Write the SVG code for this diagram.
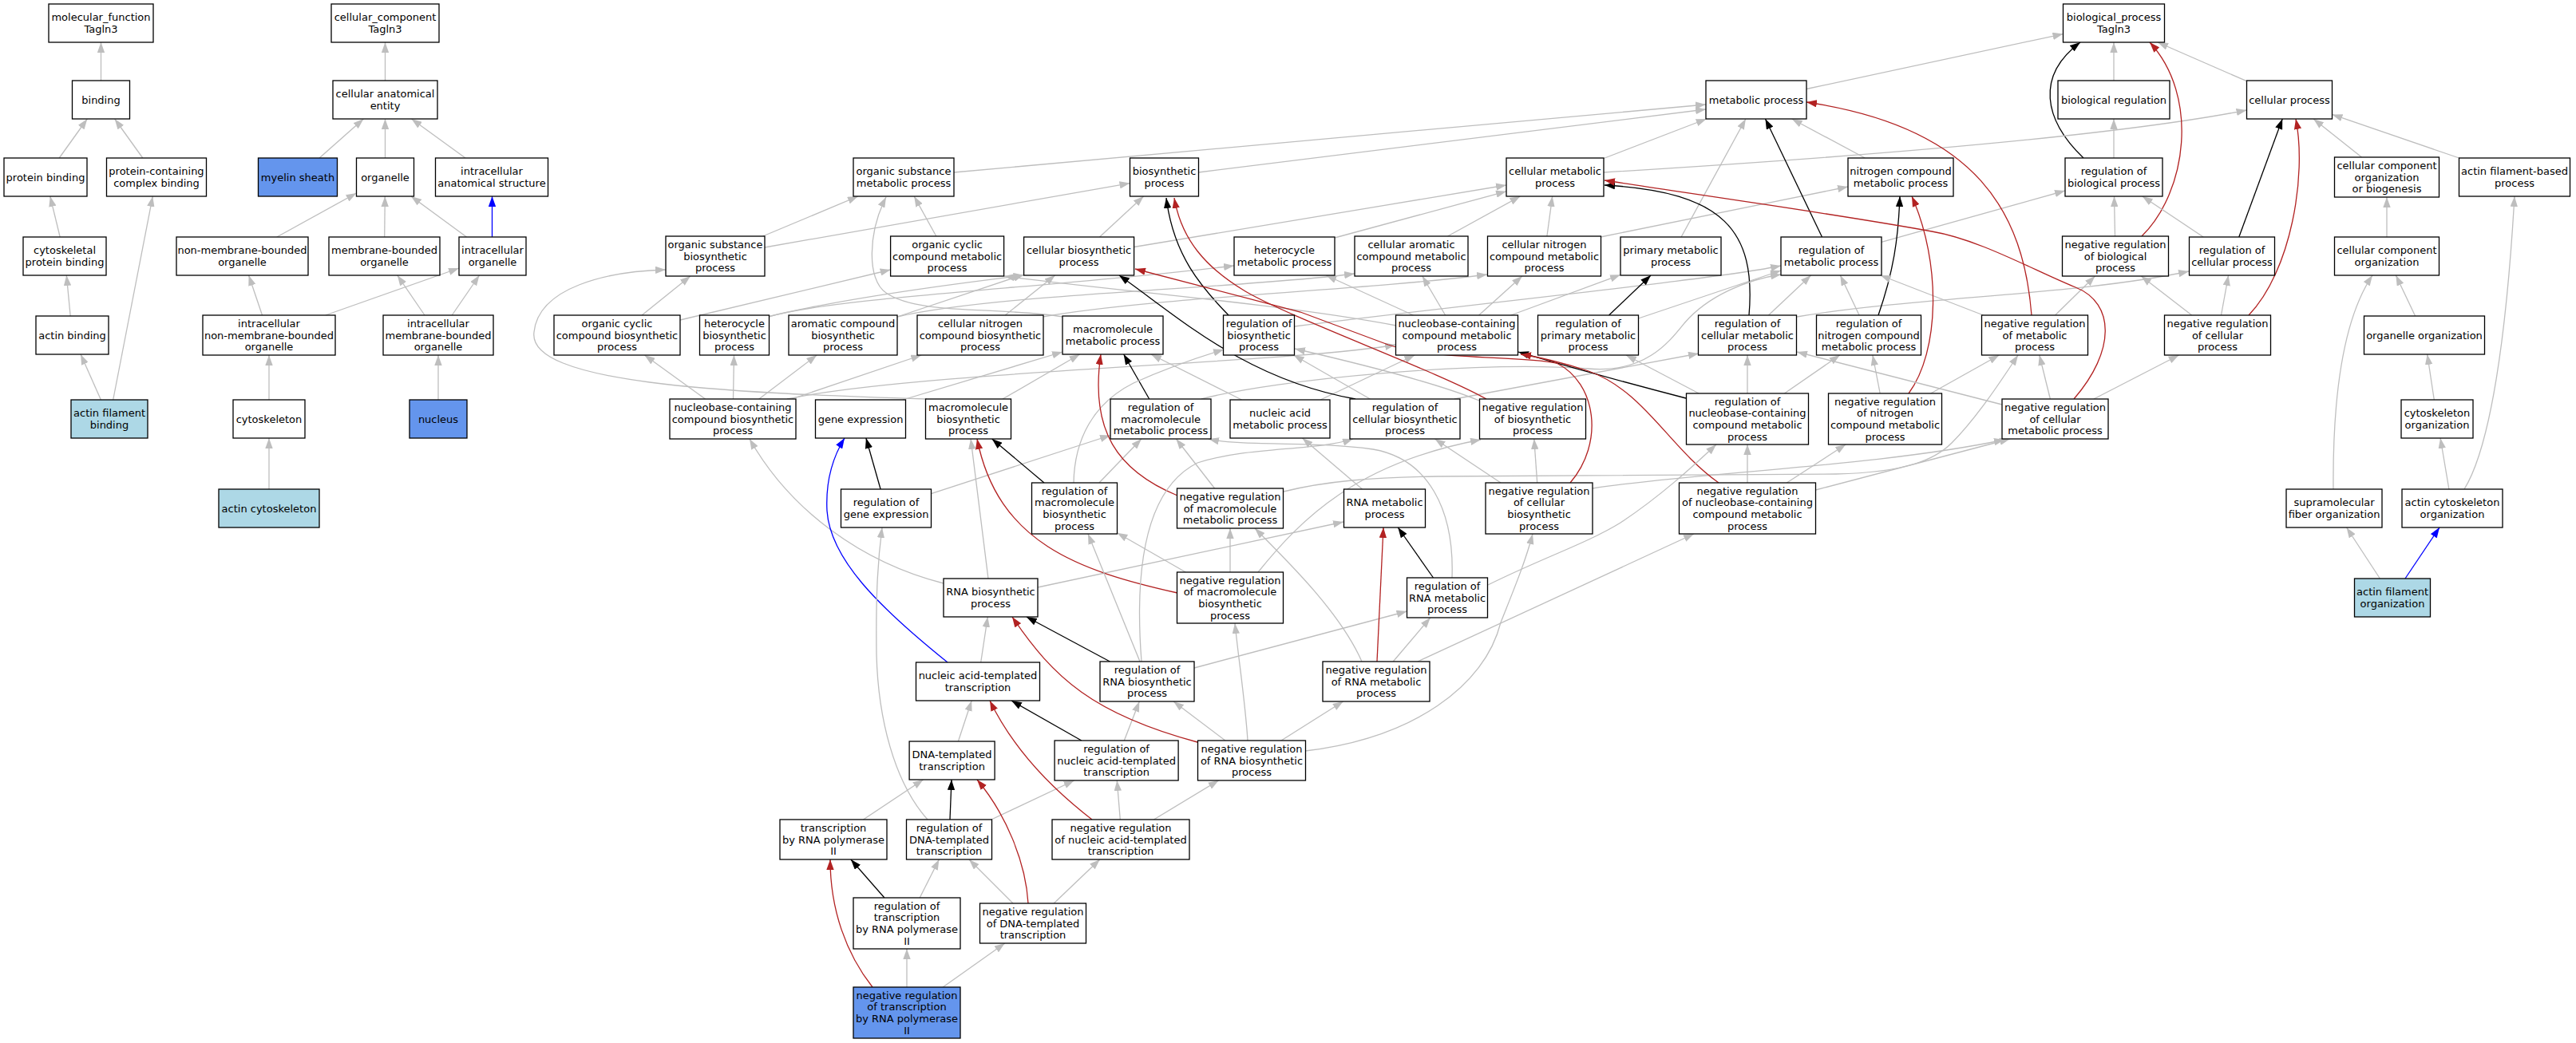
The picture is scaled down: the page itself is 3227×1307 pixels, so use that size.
<svg xmlns="http://www.w3.org/2000/svg" width="3227" height="1307" viewBox="0 0 3227 1307">
<defs>
<style>
.n rect{fill:#fff;stroke:#000;stroke-width:1.3}
.n.lb rect{fill:#add8e6}
.n.cb rect{fill:#6495ed}
text{font-family:"DejaVu Sans",Verdana,sans-serif;font-size:13px;text-anchor:middle;fill:#000}
#edges path{fill:none;stroke-width:1.3}
#edges .g{stroke:#bebebe;marker-end:url(#mg)}
#edges .k{stroke:#000;marker-end:url(#mk)}
#edges .r{stroke:#b22222;marker-end:url(#mr)}
#edges .b{stroke:#0000ff;marker-end:url(#mb)}
</style>
<marker id="mg" viewBox="0 0 13 9.4" refX="13" refY="4.7" markerWidth="13" markerHeight="9.4" markerUnits="userSpaceOnUse" orient="auto"><path d="M0,0L13,4.7L0,9.4z" fill="#bebebe"/></marker>
<marker id="mk" viewBox="0 0 13 9.4" refX="13" refY="4.7" markerWidth="13" markerHeight="9.4" markerUnits="userSpaceOnUse" orient="auto"><path d="M0,0L13,4.7L0,9.4z" fill="#000"/></marker>
<marker id="mr" viewBox="0 0 13 9.4" refX="13" refY="4.7" markerWidth="13" markerHeight="9.4" markerUnits="userSpaceOnUse" orient="auto"><path d="M0,0L13,4.7L0,9.4z" fill="#b22222"/></marker>
<marker id="mb" viewBox="0 0 13 9.4" refX="13" refY="4.7" markerWidth="13" markerHeight="9.4" markerUnits="userSpaceOnUse" orient="auto"><path d="M0,0L13,4.7L0,9.4z" fill="#0000ff"/></marker>
</defs>
<rect width="3227" height="1307" fill="#fff"/>
<g id="edges">
<path class="g" d="M126.5,101 L126.5,53"/>
<path class="g" d="M74.2,198 L109.3,149"/>
<path class="g" d="M178.8,198 L143.7,149"/>
<path class="g" d="M75.2,297 L62.8,246"/>
<path class="g" d="M88.2,396 L83.3,345"/>
<path class="g" d="M126.4,501 L101.1,444"/>
<path class="g" d="M141.7,501 L191.3,246"/>
<path class="g" d="M482.5,101 L482.5,53"/>
<path class="g" d="M400.1,198 L455.4,149"/>
<path class="g" d="M482.5,198 L482.5,149"/>
<path class="g" d="M583,198 L515.5,149"/>
<path class="g" d="M346.8,297 L446.5,242"/>
<path class="g" d="M481.7,297 L482.3,246"/>
<path class="g" d="M584.5,297 L515,246"/>
<path class="b" d="M616.5,297 L616.5,246"/>
<path class="g" d="M328.5,395 L311.6,345"/>
<path class="g" d="M407.7,395 L575,336"/>
<path class="g" d="M532,395 L497.8,345"/>
<path class="g" d="M566.2,395 L600.5,345"/>
<path class="g" d="M337,501 L337,445"/>
<path class="g" d="M549,501 L549,445"/>
<path class="g" d="M337,613 L337,549"/>
<path class="g" d="M2263,111.5 L2584.5,42.6"/>
<path class="g" d="M2648,101 L2648,53"/>
<path class="g" d="M2814.5,101.7 L2703,53"/>
<path class="k" d="M2610,198 C2560,150 2550,95 2606,53"/>
<path class="g" d="M2648,198 L2648,149"/>
<path class="g" d="M1195,216 L2137,131"/>
<path class="g" d="M1501.5,216 L2137,137"/>
<path class="g" d="M2009,198.5 L2137.7,149"/>
<path class="g" d="M2009,216 Q2600,180 2814.5,138"/>
<path class="g" d="M2336.3,198 L2244.7,149"/>
<path class="g" d="M2958.5,197 L2898.1,149"/>
<path class="g" d="M3080.6,198 L2921.5,143.4"/>
<path class="g" d="M955.6,296 L1074.9,246"/>
<path class="g" d="M958,310 L1415.5,229.6"/>
<path class="g" d="M1172.8,296 L1145.2,246"/>
<path class="g" d="M1377.5,297 L1432.6,246"/>
<path class="g" d="M1420.6,309.5 L1887,232"/>
<path class="g" d="M1672,298 L1887,239.8"/>
<path class="g" d="M1813.5,296 L1904.4,246"/>
<path class="g" d="M1937.9,296 L1944.7,246"/>
<path class="g" d="M2005,297 L2315,234"/>
<path class="g" d="M2106.1,297 L2186.9,149"/>
<path class="k" d="M2282.5,297 L2211.5,149"/>
<path class="g" d="M2357,303.4 L2587,239"/>
<path class="g" d="M2649.5,296 L2648.5,246"/>
<path class="r" d="M2683,296 C2740,240 2755,120 2693,53"/>
<path class="g" d="M2760.2,297 L2683.8,246"/>
<path class="k" d="M2804.8,297 L2859.2,149"/>
<path class="g" d="M2990,297 L2990,247"/>
<path class="g" d="M852,401 L1115.6,338"/>
<path class="g" d="M804.1,395 L864.9,346"/>
<path class="g" d="M962,397 C1050,372 1300,362 1546,333"/>
<path class="g" d="M962,397 C1050,375 1200,355 1282.6,345"/>
<path class="g" d="M1124,397 L1282.6,344"/>
<path class="g" d="M1124,397 C1250,368 1550,362 1697,343"/>
<path class="g" d="M1259.2,395 L1321.7,345"/>
<path class="g" d="M1306,397 C1450,372 1700,365 1863,344"/>
<path class="g" d="M1332,397 C1250,384 1150,395 1110,367 C1085,350 1088,290 1110,247"/>
<path class="k" d="M1539,395 C1505,360 1470,320 1461,248"/>
<path class="g" d="M1622,409 C1850,380 2150,350 2231,333"/>
<path class="g" d="M1770.5,395 L1661.3,345"/>
<path class="g" d="M1810.6,395 L1781.8,346"/>
<path class="g" d="M1852.6,395 L1906.9,346"/>
<path class="g" d="M1892.7,395 L2030,344.3"/>
<path class="g" d="M1749,408 C1600,380 1400,365 1258,346"/>
<path class="k" d="M2015.6,395 L2068,345"/>
<path class="g" d="M2052.5,399 L2231,339"/>
<path class="k" d="M2191,395 C2200,290 2160,240 2010,232"/>
<path class="g" d="M2215.5,395 L2268.6,345"/>
<path class="g" d="M2251,397 C2400,372 2600,370 2742,340"/>
<path class="k" d="M2353,395 C2372,340 2378,300 2380,246"/>
<path class="g" d="M2329.1,395 L2305.4,345"/>
<path class="r" d="M2545,395 C2535,270 2480,160 2263,128"/>
<path class="g" d="M2484.6,395 L2355.7,345"/>
<path class="g" d="M2574.5,395 L2624.5,346"/>
<path class="g" d="M2745.7,395 L2682.3,346"/>
<path class="g" d="M2782.5,395 L2791.6,345"/>
<path class="r" d="M2817,395 C2870,340 2890,220 2876,149"/>
<path class="g" d="M3025.6,396 L3001.4,345"/>
<path class="g" d="M883.5,500 L807.5,445"/>
<path class="g" d="M918.5,500 L919.5,445"/>
<path class="g" d="M950.8,500 L1023.2,445"/>
<path class="g" d="M991.8,500 L1154.2,445"/>
<path class="g" d="M986,500 C1150,465 1620,455 1748,432"/>
<path class="g" d="M1131,501 L1331,441"/>
<path class="g" d="M1256,500 L1352.6,444"/>
<path class="g" d="M1161,500 C900,492 660,480 669,416 C675,360 760,340 834,338"/>
<path class="k" d="M1439.7,500 L1407.7,444"/>
<path class="g" d="M1505,500 C1600,475 1850,452 1990,462 C2060,468 2090,430 2110,405 C2140,370 2190,350 2231,344"/>
<path class="g" d="M1555.5,501 L1442,444"/>
<path class="g" d="M1654.2,501 L1772.3,445"/>
<path class="g" d="M1716.4,500 L1620.6,445"/>
<path class="k" d="M1698,500 C1560,475 1480,400 1402,345"/>
<path class="g" d="M1822,500 L2128,443"/>
<path class="r" d="M1862,500 C1800,465 1620,400 1560,365 C1510,335 1480,300 1471,248"/>
<path class="g" d="M1853,502 C1800,480 1700,455 1622,437"/>
<path class="k" d="M2112,499 C2000,470 1950,455 1902,441"/>
<path class="g" d="M2189,493 L2189,445"/>
<path class="g" d="M2235.4,493 L2304.8,445"/>
<path class="g" d="M2128.2,493 L2037,445"/>
<path class="r" d="M2391,493 C2430,440 2432,330 2395,246"/>
<path class="g" d="M2355.2,493 L2345.9,445"/>
<path class="g" d="M2418.7,493 L2504.4,445"/>
<path class="r" d="M2598,500 C2650,440 2650,380 2600,360 C2550,340 2480,300 2420,290 C2300,268 2100,240 2010,226"/>
<path class="g" d="M2508,507 L2251,441"/>
<path class="g" d="M2568.4,500 L2554.8,445"/>
<path class="g" d="M2622.9,500 L2729.6,445"/>
<path class="g" d="M3049.3,501 L3040.7,444"/>
<path class="k" d="M1103.1,613 L1084.9,549"/>
<path class="g" d="M1166.5,618.6 L1391,545.5"/>
<path class="k" d="M1308,605 L1242.7,550"/>
<path class="g" d="M1376.9,605 L1429.9,550"/>
<path class="g" d="M1345,605 C1346,550 1370,505 1420,480 C1460,462 1500,448 1533,438"/>
<path class="r" d="M1475,621 C1400,590 1365,540 1379,444"/>
<path class="g" d="M1521.6,612 L1473.4,550"/>
<path class="g" d="M1608,616 C1660,603 1720,598 1800,597 L2300,594 C2390,592 2425,575 2445,555 C2475,525 2505,480 2528,445"/>
<path class="g" d="M1706.5,613 L1631.5,549"/>
<path class="g" d="M1925.7,605 L1921.8,550"/>
<path class="g" d="M1880,605 L1797.5,550"/>
<path class="r" d="M1967,605 C2010,555 2000,480 1950,455 C1900,445 1800,452 1739,432 L1629,391 L1422,337"/>
<path class="g" d="M1995,612 C2120,592 2350,585 2511,551"/>
<path class="r" d="M2153,605 C2090,560 2060,490 1990,465 C1950,452 1925,447 1905,444"/>
<path class="g" d="M2189,605 L2189,557"/>
<path class="g" d="M2238.3,605 L2312.2,557"/>
<path class="g" d="M2274.5,614 L2518,550"/>
<path class="g" d="M2923,613 C2922,500 2935,400 2972,345"/>
<path class="g" d="M3067.9,613 L3057.1,549"/>
<path class="g" d="M3087,613 C3120,560 3140,420 3150,246"/>
<path class="g" d="M1182,731 C1080,705 990,640 939,550"/>
<path class="g" d="M1238,725 L1216.1,550"/>
<path class="g" d="M1300,736 L1683,654"/>
<path class="r" d="M1475,743 C1350,715 1250,680 1224,550"/>
<path class="g" d="M1485.3,717 L1399.5,667.7"/>
<path class="g" d="M1541,717 L1541,662"/>
<path class="g" d="M1576,717 C1630,650 1700,580 1855,551"/>
<path class="k" d="M1795.5,724 L1751.3,661"/>
<path class="g" d="M1819,724 C1822,640 1790,575 1720,563 C1640,552 1560,560 1514,550"/>
<path class="g" d="M1864,733 C1930,700 1990,680 2030,655 C2080,622 2120,585 2150,557"/>
<path class="g" d="M2981.4,725 L2939.6,661"/>
<path class="b" d="M3013,725 L3056,661"/>
<path class="g" d="M1228.7,830 L1237.3,773"/>
<path class="b" d="M1187,830 C1100,760 1040,700 1036,640 C1034,600 1045,570 1058,549"/>
<path class="k" d="M1390.4,829 L1285.9,773"/>
<path class="g" d="M1428,829 L1363,669"/>
<path class="g" d="M1496,837 L1762.5,766"/>
<path class="g" d="M1430,829 C1420,700 1440,610 1500,580 C1560,560 1650,565 1695,550"/>
<path class="r" d="M1725,829 L1733,661"/>
<path class="g" d="M1745.2,829 L1791.8,774"/>
<path class="g" d="M1776,829 L2122,669"/>
<path class="g" d="M1706,829 C1680,770 1620,710 1572,662"/>
<path class="g" d="M1200.4,929 L1217.2,878"/>
<path class="k" d="M1354.8,928 L1267,878"/>
<path class="g" d="M1408.3,928 L1427.3,879"/>
<path class="r" d="M1500,930 C1370,895 1320,850 1268,773"/>
<path class="g" d="M1534.9,928 L1470.1,879"/>
<path class="g" d="M1563,928 C1560,880 1552,830 1547,781"/>
<path class="g" d="M1605,928 L1682.6,879"/>
<path class="g" d="M1635,941 C1770,925 1860,860 1880,780 C1900,730 1912,700 1920,669"/>
<path class="g" d="M1081.5,1027 L1156.6,977"/>
<path class="k" d="M1190,1027 L1192,977"/>
<path class="g" d="M1241.9,1027 L1345.7,978"/>
<path class="g" d="M1162,1027 C1120,980 1100,900 1098,820 C1097,740 1100,700 1105,661"/>
<path class="r" d="M1368,1027 C1320,990 1270,940 1240,878"/>
<path class="g" d="M1403.3,1027 L1399.3,978"/>
<path class="g" d="M1445.4,1027 L1526.6,978"/>
<path class="k" d="M1107.9,1125 L1065.9,1077"/>
<path class="g" d="M1152.2,1125 L1176.4,1077"/>
<path class="r" d="M1288,1132 C1285,1080 1260,1020 1224,977"/>
<path class="g" d="M1269,1132 L1214,1077"/>
<path class="g" d="M1320.2,1132 L1377.8,1077"/>
<path class="r" d="M1093,1237 C1060,1195 1040,1140 1040,1077"/>
<path class="g" d="M1136,1237 L1136,1189"/>
<path class="g" d="M1181.2,1237 L1258.8,1182"/>
</g>
<g id="mf" class="n"><rect x="61" y="5" width="131" height="48"/><text x="126.5" y="26.35"><tspan x="126.5">molecular_function</tspan><tspan x="126.5" dy="14.7">Tagln3</tspan></text></g>
<g id="binding" class="n"><rect x="90.5" y="101" width="72" height="48"/><text x="126.5" y="129.7">binding</text></g>
<g id="pb" class="n"><rect x="5" y="198" width="104" height="48"/><text x="57" y="226.7">protein binding</text></g>
<g id="pccb" class="n"><rect x="133.5" y="198" width="125" height="48"/><text x="196" y="219.35"><tspan x="196">protein-containing</tspan><tspan x="196" dy="14.7">complex binding</tspan></text></g>
<g id="cpb" class="n"><rect x="29" y="297" width="104" height="48"/><text x="81" y="318.35"><tspan x="81">cytoskeletal</tspan><tspan x="81" dy="14.7">protein binding</tspan></text></g>
<g id="ab" class="n"><rect x="45" y="396" width="91" height="48"/><text x="90.5" y="424.7">actin binding</text></g>
<g id="afb" class="n lb"><rect x="89" y="501" width="96" height="48"/><text x="137" y="522.35"><tspan x="137">actin filament</tspan><tspan x="137" dy="14.7">binding</tspan></text></g>
<g id="cc" class="n"><rect x="415" y="5" width="135" height="48"/><text x="482.5" y="26.35"><tspan x="482.5">cellular_component</tspan><tspan x="482.5" dy="14.7">Tagln3</tspan></text></g>
<g id="cae" class="n"><rect x="417" y="101" width="131" height="48"/><text x="482.5" y="122.35"><tspan x="482.5">cellular anatomical</tspan><tspan x="482.5" dy="14.7">entity</tspan></text></g>
<g id="ms" class="n cb"><rect x="323.5" y="198" width="99" height="48"/><text x="373" y="226.7">myelin sheath</text></g>
<g id="org" class="n"><rect x="446.5" y="198" width="72" height="48"/><text x="482.5" y="226.7">organelle</text></g>
<g id="ias" class="n"><rect x="545.5" y="198" width="141" height="48"/><text x="616" y="219.35"><tspan x="616">intracellular</tspan><tspan x="616" dy="14.7">anatomical structure</tspan></text></g>
<g id="nmbo" class="n"><rect x="221" y="297" width="165" height="48"/><text x="303.5" y="318.35"><tspan x="303.5">non-membrane-bounded</tspan><tspan x="303.5" dy="14.7">organelle</tspan></text></g>
<g id="mbo" class="n"><rect x="412" y="297" width="139" height="48"/><text x="481.5" y="318.35"><tspan x="481.5">membrane-bounded</tspan><tspan x="481.5" dy="14.7">organelle</tspan></text></g>
<g id="io" class="n"><rect x="575" y="297" width="84" height="48"/><text x="617" y="318.35"><tspan x="617">intracellular</tspan><tspan x="617" dy="14.7">organelle</tspan></text></g>
<g id="inmbo" class="n"><rect x="254" y="395" width="166" height="50"/><text x="337" y="410"><tspan x="337">intracellular</tspan><tspan x="337" dy="14.7">non-membrane-bounded</tspan><tspan x="337" dy="14.7">organelle</tspan></text></g>
<g id="imbo" class="n"><rect x="480" y="395" width="138" height="50"/><text x="549" y="410"><tspan x="549">intracellular</tspan><tspan x="549" dy="14.7">membrane-bounded</tspan><tspan x="549" dy="14.7">organelle</tspan></text></g>
<g id="csk" class="n"><rect x="292" y="501" width="90" height="48"/><text x="337" y="529.7">cytoskeleton</text></g>
<g id="nuc" class="n cb"><rect x="513" y="501" width="72" height="48"/><text x="549" y="529.7">nucleus</text></g>
<g id="acsk" class="n lb"><rect x="274" y="613" width="126" height="48"/><text x="337" y="641.7">actin cytoskeleton</text></g>
<g id="bp" class="n"><rect x="2584.5" y="5" width="127" height="48"/><text x="2648" y="26.35"><tspan x="2648">biological_process</tspan><tspan x="2648" dy="14.7">Tagln3</tspan></text></g>
<g id="mp" class="n"><rect x="2137" y="101" width="126" height="48"/><text x="2200" y="129.7">metabolic process</text></g>
<g id="br" class="n"><rect x="2578" y="101" width="140" height="48"/><text x="2648" y="129.7">biological regulation</text></g>
<g id="cp" class="n"><rect x="2814.5" y="101" width="107" height="48"/><text x="2868" y="129.7">cellular process</text></g>
<g id="osmp" class="n"><rect x="1069" y="198" width="126" height="48"/><text x="1132" y="219.35"><tspan x="1132">organic substance</tspan><tspan x="1132" dy="14.7">metabolic process</tspan></text></g>
<g id="bsp" class="n"><rect x="1415.5" y="198" width="86" height="48"/><text x="1458.5" y="219.35"><tspan x="1458.5">biosynthetic</tspan><tspan x="1458.5" dy="14.7">process</tspan></text></g>
<g id="cmp" class="n"><rect x="1887" y="198" width="122" height="48"/><text x="1948" y="219.35"><tspan x="1948">cellular metabolic</tspan><tspan x="1948" dy="14.7">process</tspan></text></g>
<g id="ncmp" class="n"><rect x="2315" y="198" width="132" height="48"/><text x="2381" y="219.35"><tspan x="2381">nitrogen compound</tspan><tspan x="2381" dy="14.7">metabolic process</tspan></text></g>
<g id="rbp" class="n"><rect x="2587" y="198" width="122" height="48"/><text x="2648" y="219.35"><tspan x="2648">regulation of</tspan><tspan x="2648" dy="14.7">biological process</tspan></text></g>
<g id="ccob" class="n"><rect x="2924.5" y="197" width="131" height="50"/><text x="2990" y="212"><tspan x="2990">cellular component</tspan><tspan x="2990" dy="14.7">organization</tspan><tspan x="2990" dy="14.7">or biogenesis</tspan></text></g>
<g id="afbp" class="n"><rect x="3080.5" y="198" width="139" height="48"/><text x="3150" y="219.35"><tspan x="3150">actin filament-based</tspan><tspan x="3150" dy="14.7">process</tspan></text></g>
<g id="osbp" class="n"><rect x="834" y="296" width="124" height="50"/><text x="896" y="311"><tspan x="896">organic substance</tspan><tspan x="896" dy="14.7">biosynthetic</tspan><tspan x="896" dy="14.7">process</tspan></text></g>
<g id="occmp" class="n"><rect x="1115.6" y="296" width="142" height="50"/><text x="1186.6" y="311"><tspan x="1186.6">organic cyclic</tspan><tspan x="1186.6" dy="14.7">compound metabolic</tspan><tspan x="1186.6" dy="14.7">process</tspan></text></g>
<g id="cbp" class="n"><rect x="1282.6" y="297" width="138" height="48"/><text x="1351.6" y="318.35"><tspan x="1351.6">cellular biosynthetic</tspan><tspan x="1351.6" dy="14.7">process</tspan></text></g>
<g id="hmp" class="n"><rect x="1546" y="297" width="126" height="48"/><text x="1609" y="318.35"><tspan x="1609">heterocycle</tspan><tspan x="1609" dy="14.7">metabolic process</tspan></text></g>
<g id="camp" class="n"><rect x="1697" y="296" width="142" height="50"/><text x="1768" y="311"><tspan x="1768">cellular aromatic</tspan><tspan x="1768" dy="14.7">compound metabolic</tspan><tspan x="1768" dy="14.7">process</tspan></text></g>
<g id="cnmp" class="n"><rect x="1863.5" y="296" width="142" height="50"/><text x="1934.5" y="311"><tspan x="1934.5">cellular nitrogen</tspan><tspan x="1934.5" dy="14.7">compound metabolic</tspan><tspan x="1934.5" dy="14.7">process</tspan></text></g>
<g id="pmp" class="n"><rect x="2030" y="297" width="126" height="48"/><text x="2093" y="318.35"><tspan x="2093">primary metabolic</tspan><tspan x="2093" dy="14.7">process</tspan></text></g>
<g id="rmp" class="n"><rect x="2231" y="297" width="126" height="48"/><text x="2294" y="318.35"><tspan x="2294">regulation of</tspan><tspan x="2294" dy="14.7">metabolic process</tspan></text></g>
<g id="nrbp" class="n"><rect x="2583.5" y="296" width="133" height="50"/><text x="2650" y="311"><tspan x="2650">negative regulation</tspan><tspan x="2650" dy="14.7">of biological</tspan><tspan x="2650" dy="14.7">process</tspan></text></g>
<g id="rcp" class="n"><rect x="2742.5" y="297" width="107" height="48"/><text x="2796" y="318.35"><tspan x="2796">regulation of</tspan><tspan x="2796" dy="14.7">cellular process</tspan></text></g>
<g id="cco" class="n"><rect x="2924.5" y="297" width="131" height="48"/><text x="2990" y="318.35"><tspan x="2990">cellular component</tspan><tspan x="2990" dy="14.7">organization</tspan></text></g>
<g id="occbp" class="n"><rect x="694" y="395" width="158" height="50"/><text x="773" y="410"><tspan x="773">organic cyclic</tspan><tspan x="773" dy="14.7">compound biosynthetic</tspan><tspan x="773" dy="14.7">process</tspan></text></g>
<g id="hbp" class="n"><rect x="876.5" y="395" width="87" height="50"/><text x="920" y="410"><tspan x="920">heterocycle</tspan><tspan x="920" dy="14.7">biosynthetic</tspan><tspan x="920" dy="14.7">process</tspan></text></g>
<g id="acbp" class="n"><rect x="988" y="395" width="136" height="50"/><text x="1056" y="410"><tspan x="1056">aromatic compound</tspan><tspan x="1056" dy="14.7">biosynthetic</tspan><tspan x="1056" dy="14.7">process</tspan></text></g>
<g id="cncbp" class="n"><rect x="1149" y="395" width="158" height="50"/><text x="1228" y="410"><tspan x="1228">cellular nitrogen</tspan><tspan x="1228" dy="14.7">compound biosynthetic</tspan><tspan x="1228" dy="14.7">process</tspan></text></g>
<g id="mmp" class="n"><rect x="1331" y="396" width="126" height="48"/><text x="1394" y="417.35"><tspan x="1394">macromolecule</tspan><tspan x="1394" dy="14.7">metabolic process</tspan></text></g>
<g id="rbsp" class="n"><rect x="1532.5" y="395" width="89" height="50"/><text x="1577" y="410"><tspan x="1577">regulation of</tspan><tspan x="1577" dy="14.7">biosynthetic</tspan><tspan x="1577" dy="14.7">process</tspan></text></g>
<g id="nbcmp" class="n"><rect x="1748.5" y="395" width="153" height="50"/><text x="1825" y="410"><tspan x="1825">nucleobase-containing</tspan><tspan x="1825" dy="14.7">compound metabolic</tspan><tspan x="1825" dy="14.7">process</tspan></text></g>
<g id="rpmp" class="n"><rect x="1926.5" y="395" width="126" height="50"/><text x="1989.5" y="410"><tspan x="1989.5">regulation of</tspan><tspan x="1989.5" dy="14.7">primary metabolic</tspan><tspan x="1989.5" dy="14.7">process</tspan></text></g>
<g id="rcmp" class="n"><rect x="2127.5" y="395" width="123" height="50"/><text x="2189" y="410"><tspan x="2189">regulation of</tspan><tspan x="2189" dy="14.7">cellular metabolic</tspan><tspan x="2189" dy="14.7">process</tspan></text></g>
<g id="rncmp" class="n"><rect x="2275.5" y="395" width="131" height="50"/><text x="2341" y="410"><tspan x="2341">regulation of</tspan><tspan x="2341" dy="14.7">nitrogen compound</tspan><tspan x="2341" dy="14.7">metabolic process</tspan></text></g>
<g id="nrmp" class="n"><rect x="2482.5" y="395" width="133" height="50"/><text x="2549" y="410"><tspan x="2549">negative regulation</tspan><tspan x="2549" dy="14.7">of metabolic</tspan><tspan x="2549" dy="14.7">process</tspan></text></g>
<g id="nrcp" class="n"><rect x="2711.5" y="395" width="133" height="50"/><text x="2778" y="410"><tspan x="2778">negative regulation</tspan><tspan x="2778" dy="14.7">of cellular</tspan><tspan x="2778" dy="14.7">process</tspan></text></g>
<g id="oo" class="n"><rect x="2961.5" y="396" width="151" height="48"/><text x="3037" y="424.7">organelle organization</text></g>
<g id="nbcbp" class="n"><rect x="839" y="500" width="158" height="50"/><text x="918" y="515"><tspan x="918">nucleobase-containing</tspan><tspan x="918" dy="14.7">compound biosynthetic</tspan><tspan x="918" dy="14.7">process</tspan></text></g>
<g id="ge" class="n"><rect x="1021.5" y="501" width="113" height="48"/><text x="1078" y="529.7">gene expression</text></g>
<g id="mbp" class="n"><rect x="1159.5" y="500" width="107" height="50"/><text x="1213" y="515"><tspan x="1213">macromolecule</tspan><tspan x="1213" dy="14.7">biosynthetic</tspan><tspan x="1213" dy="14.7">process</tspan></text></g>
<g id="rmmp" class="n"><rect x="1391" y="500" width="126" height="50"/><text x="1454" y="515"><tspan x="1454">regulation of</tspan><tspan x="1454" dy="14.7">macromolecule</tspan><tspan x="1454" dy="14.7">metabolic process</tspan></text></g>
<g id="namp" class="n"><rect x="1541" y="501" width="125" height="48"/><text x="1603.5" y="522.35"><tspan x="1603.5">nucleic acid</tspan><tspan x="1603.5" dy="14.7">metabolic process</tspan></text></g>
<g id="rcbp" class="n"><rect x="1691" y="500" width="138" height="50"/><text x="1760" y="515"><tspan x="1760">regulation of</tspan><tspan x="1760" dy="14.7">cellular biosynthetic</tspan><tspan x="1760" dy="14.7">process</tspan></text></g>
<g id="nrbsp" class="n"><rect x="1853.5" y="500" width="133" height="50"/><text x="1920" y="515"><tspan x="1920">negative regulation</tspan><tspan x="1920" dy="14.7">of biosynthetic</tspan><tspan x="1920" dy="14.7">process</tspan></text></g>
<g id="rnbcmp" class="n"><rect x="2112.5" y="493" width="153" height="64"/><text x="2189" y="507.65"><tspan x="2189">regulation of</tspan><tspan x="2189" dy="14.7">nucleobase-containing</tspan><tspan x="2189" dy="14.7">compound metabolic</tspan><tspan x="2189" dy="14.7">process</tspan></text></g>
<g id="nrncmp" class="n"><rect x="2290.5" y="493" width="142" height="64"/><text x="2361.5" y="507.65"><tspan x="2361.5">negative regulation</tspan><tspan x="2361.5" dy="14.7">of nitrogen</tspan><tspan x="2361.5" dy="14.7">compound metabolic</tspan><tspan x="2361.5" dy="14.7">process</tspan></text></g>
<g id="nrcmp" class="n"><rect x="2508" y="500" width="133" height="50"/><text x="2574.5" y="515"><tspan x="2574.5">negative regulation</tspan><tspan x="2574.5" dy="14.7">of cellular</tspan><tspan x="2574.5" dy="14.7">metabolic process</tspan></text></g>
<g id="csko" class="n"><rect x="3008" y="501" width="90" height="48"/><text x="3053" y="522.35"><tspan x="3053">cytoskeleton</tspan><tspan x="3053" dy="14.7">organization</tspan></text></g>
<g id="rge" class="n"><rect x="1053.5" y="613" width="113" height="48"/><text x="1110" y="634.35"><tspan x="1110">regulation of</tspan><tspan x="1110" dy="14.7">gene expression</tspan></text></g>
<g id="rmbp" class="n"><rect x="1292.5" y="605" width="107" height="64"/><text x="1346" y="619.65"><tspan x="1346">regulation of</tspan><tspan x="1346" dy="14.7">macromolecule</tspan><tspan x="1346" dy="14.7">biosynthetic</tspan><tspan x="1346" dy="14.7">process</tspan></text></g>
<g id="nrmmp" class="n"><rect x="1474.5" y="612" width="133" height="50"/><text x="1541" y="627"><tspan x="1541">negative regulation</tspan><tspan x="1541" dy="14.7">of macromolecule</tspan><tspan x="1541" dy="14.7">metabolic process</tspan></text></g>
<g id="rnamp" class="n"><rect x="1683.5" y="613" width="102" height="48"/><text x="1734.5" y="634.35"><tspan x="1734.5">RNA metabolic</tspan><tspan x="1734.5" dy="14.7">process</tspan></text></g>
<g id="nrcbp" class="n"><rect x="1861" y="605" width="134" height="64"/><text x="1928" y="619.65"><tspan x="1928">negative regulation</tspan><tspan x="1928" dy="14.7">of cellular</tspan><tspan x="1928" dy="14.7">biosynthetic</tspan><tspan x="1928" dy="14.7">process</tspan></text></g>
<g id="nrnbcmp" class="n"><rect x="2103.5" y="605" width="171" height="64"/><text x="2189" y="619.65"><tspan x="2189">negative regulation</tspan><tspan x="2189" dy="14.7">of nucleobase-containing</tspan><tspan x="2189" dy="14.7">compound metabolic</tspan><tspan x="2189" dy="14.7">process</tspan></text></g>
<g id="sfo" class="n"><rect x="2864" y="613" width="120" height="48"/><text x="2924" y="634.35"><tspan x="2924">supramolecular</tspan><tspan x="2924" dy="14.7">fiber organization</tspan></text></g>
<g id="acsko" class="n"><rect x="3009" y="613" width="126" height="48"/><text x="3072" y="634.35"><tspan x="3072">actin cytoskeleton</tspan><tspan x="3072" dy="14.7">organization</tspan></text></g>
<g id="rnabp" class="n"><rect x="1182" y="725" width="118" height="48"/><text x="1241" y="746.35"><tspan x="1241">RNA biosynthetic</tspan><tspan x="1241" dy="14.7">process</tspan></text></g>
<g id="nrmbp" class="n"><rect x="1474.5" y="717" width="133" height="64"/><text x="1541" y="731.65"><tspan x="1541">negative regulation</tspan><tspan x="1541" dy="14.7">of macromolecule</tspan><tspan x="1541" dy="14.7">biosynthetic</tspan><tspan x="1541" dy="14.7">process</tspan></text></g>
<g id="rrnamp" class="n"><rect x="1762.5" y="724" width="101" height="50"/><text x="1813" y="739"><tspan x="1813">regulation of</tspan><tspan x="1813" dy="14.7">RNA metabolic</tspan><tspan x="1813" dy="14.7">process</tspan></text></g>
<g id="afo" class="n lb"><rect x="2949.5" y="725" width="95" height="48"/><text x="2997" y="746.35"><tspan x="2997">actin filament</tspan><tspan x="2997" dy="14.7">organization</tspan></text></g>
<g id="natt" class="n"><rect x="1147.5" y="830" width="155" height="48"/><text x="1225" y="851.35"><tspan x="1225">nucleic acid-templated</tspan><tspan x="1225" dy="14.7">transcription</tspan></text></g>
<g id="rrnabp" class="n"><rect x="1378" y="829" width="118" height="50"/><text x="1437" y="844"><tspan x="1437">regulation of</tspan><tspan x="1437" dy="14.7">RNA biosynthetic</tspan><tspan x="1437" dy="14.7">process</tspan></text></g>
<g id="nrrnamp" class="n"><rect x="1657" y="829" width="134" height="50"/><text x="1724" y="844"><tspan x="1724">negative regulation</tspan><tspan x="1724" dy="14.7">of RNA metabolic</tspan><tspan x="1724" dy="14.7">process</tspan></text></g>
<g id="dtt" class="n"><rect x="1139.1" y="929" width="107" height="48"/><text x="1192.6" y="950.35"><tspan x="1192.6">DNA-templated</tspan><tspan x="1192.6" dy="14.7">transcription</tspan></text></g>
<g id="rnatt" class="n"><rect x="1321.1" y="928" width="155" height="50"/><text x="1398.6" y="943"><tspan x="1398.6">regulation of</tspan><tspan x="1398.6" dy="14.7">nucleic acid-templated</tspan><tspan x="1398.6" dy="14.7">transcription</tspan></text></g>
<g id="nrrnabp" class="n"><rect x="1500.5" y="928" width="135" height="50"/><text x="1568" y="943"><tspan x="1568">negative regulation</tspan><tspan x="1568" dy="14.7">of RNA biosynthetic</tspan><tspan x="1568" dy="14.7">process</tspan></text></g>
<g id="trp2" class="n"><rect x="977" y="1027" width="134" height="50"/><text x="1044" y="1042"><tspan x="1044">transcription</tspan><tspan x="1044" dy="14.7">by RNA polymerase</tspan><tspan x="1044" dy="14.7">II</tspan></text></g>
<g id="rdtt" class="n"><rect x="1135.5" y="1027" width="107" height="50"/><text x="1189" y="1042"><tspan x="1189">regulation of</tspan><tspan x="1189" dy="14.7">DNA-templated</tspan><tspan x="1189" dy="14.7">transcription</tspan></text></g>
<g id="nrnatt" class="n"><rect x="1318" y="1027" width="172" height="50"/><text x="1404" y="1042"><tspan x="1404">negative regulation</tspan><tspan x="1404" dy="14.7">of nucleic acid-templated</tspan><tspan x="1404" dy="14.7">transcription</tspan></text></g>
<g id="rtrp2" class="n"><rect x="1069" y="1125" width="134" height="64"/><text x="1136" y="1139.65"><tspan x="1136">regulation of</tspan><tspan x="1136" dy="14.7">transcription</tspan><tspan x="1136" dy="14.7">by RNA polymerase</tspan><tspan x="1136" dy="14.7">II</tspan></text></g>
<g id="nrdtt" class="n"><rect x="1227.5" y="1132" width="133" height="50"/><text x="1294" y="1147"><tspan x="1294">negative regulation</tspan><tspan x="1294" dy="14.7">of DNA-templated</tspan><tspan x="1294" dy="14.7">transcription</tspan></text></g>
<g id="nrtrp2" class="n cb"><rect x="1069" y="1237" width="134" height="64"/><text x="1136" y="1251.65"><tspan x="1136">negative regulation</tspan><tspan x="1136" dy="14.7">of transcription</tspan><tspan x="1136" dy="14.7">by RNA polymerase</tspan><tspan x="1136" dy="14.7">II</tspan></text></g>
</svg>
